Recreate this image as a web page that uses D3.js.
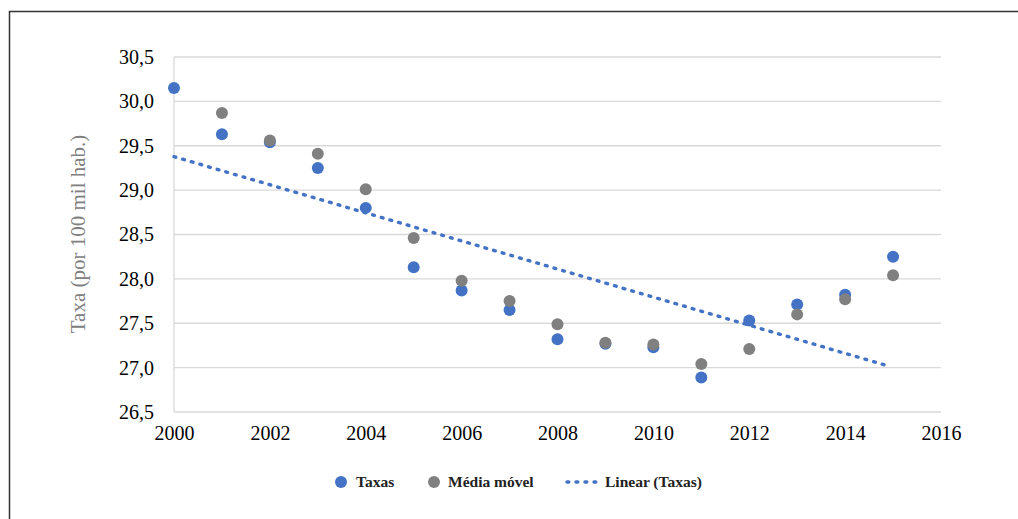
<!DOCTYPE html>
<html><head><meta charset="utf-8">
<script src="https://cdn.jsdelivr.net/npm/d3@7"></script>
<style>
body{margin:0;background:#fff;}
</style></head>
<body>
<svg id="c" width="1018" height="519"></svg>
<script>
const years = [2000,2001,2002,2003,2004,2005,2006,2007,2008,2009,2010,2011,2012,2013,2014,2015];
const taxas = [30.15,29.63,29.54,29.25,28.80,28.13,27.87,27.65,27.32,27.27,27.23,26.89,27.53,27.71,27.82,28.25];
const mediaYears = [2001,2002,2003,2004,2005,2006,2007,2008,2009,2010,2011,2012,2013,2014,2015];
const mediaMovel = [29.87,29.56,29.41,29.01,28.46,27.98,27.75,27.49,27.28,27.26,27.04,27.21,27.60,27.77,28.04];
const xTicks = [2000,2002,2004,2006,2008,2010,2012,2014,2016];
const yTicks = [26.5,27.0,27.5,28.0,28.5,29.0,29.5,30.0,30.5];
const trendRange = [2000, 2014.85];

const FONT = '"Liberation Serif"';
const svg = d3.select("#c");
const blue = "#4472C4", gray = "#808080";
const x = d3.scaleLinear().domain([2000,2016]).range([174,941]);
const y = d3.scaleLinear().domain([26.5,30.5]).range([412,57]);

// frame
svg.append("path").attr("d","M9.5,519 V11.5 H1018").attr("fill","none").attr("stroke","#333").attr("stroke-width",1.5);

// gridlines
svg.append("g").selectAll("line").data(yTicks).join("line")
  .attr("x1",x(2000)).attr("x2",x(2016)).attr("y1",d=>y(d)).attr("y2",d=>y(d))
  .attr("stroke","#d9d9d9").attr("stroke-width",1.3);
svg.append("line").attr("x1",x(2000)).attr("x2",x(2000)).attr("y1",y(30.5)).attr("y2",y(26.5))
  .attr("stroke","#d9d9d9").attr("stroke-width",1.3);

const fmt = d => d3.format(".1f")(d).replace(".",",");
const yAxis = d3.axisLeft(y).tickValues(yTicks).tickFormat(fmt).tickSize(0).tickPadding(20);
const gy = svg.append("g").attr("transform",`translate(${x(2000)},0)`).call(yAxis);
gy.attr("font-family",null).attr("font-size",null);
gy.select(".domain").remove();
gy.selectAll("text").style("font-size","20px").style("fill","#000").style("font-family",FONT);

const xAxis = d3.axisBottom(x).tickValues(xTicks).tickFormat(d3.format("d")).tickSize(0).tickPadding(14);
const gx = svg.append("g").attr("transform",`translate(0,${y(26.5)})`).call(xAxis);
gx.attr("font-family",null).attr("font-size",null);
gx.select(".domain").remove();
gx.selectAll("text").style("font-size","20px").style("fill","#000").style("font-family",FONT);

// axis title
svg.append("text").attr("transform","translate(85,234) rotate(-90)").attr("text-anchor","middle")
  .style("font-size","21px").style("fill",gray).style("font-family",FONT).text("Taxa (por 100 mil hab.)");

// linear regression of taxas
const mx = d3.mean(years), my = d3.mean(taxas);
const slope = d3.sum(years.map((v,i)=>(v-mx)*(taxas[i]-my))) / d3.sum(years.map(v=>(v-mx)*(v-mx)));
const icpt = my - slope*mx;

// taxas points
svg.append("g").selectAll("circle").data(years.map((v,i)=>[v,taxas[i]])).join("circle")
  .attr("cx",d=>x(d[0])).attr("cy",d=>y(d[1])).attr("r",6).attr("fill",blue);
// media movel points
svg.append("g").selectAll("circle").data(mediaYears.map((v,i)=>[v,mediaMovel[i]])).join("circle")
  .attr("cx",d=>x(d[0])).attr("cy",d=>y(d[1])).attr("r",6).attr("fill",gray);

// trend line
svg.append("line")
  .attr("x1",x(trendRange[0])).attr("y1",y(icpt+slope*trendRange[0]))
  .attr("x2",x(trendRange[1])).attr("y2",y(icpt+slope*trendRange[1]))
  .attr("stroke",blue).attr("stroke-width",3.4).attr("stroke-linecap","round").attr("stroke-dasharray","1.8 7.2");

// legend
const lg = svg.append("g");
const lt = s => s.style("font-size","15.5px").style("font-weight","bold").style("fill","#222").style("font-family",FONT);
lg.append("circle").attr("cx",341).attr("cy",482).attr("r",6).attr("fill",blue);
lg.append("text").attr("x",356).attr("y",487).call(lt).text("Taxas");
lg.append("circle").attr("cx",434).attr("cy",482).attr("r",6).attr("fill",gray);
lg.append("text").attr("x",448).attr("y",487).call(lt).text("Média móvel");
lg.append("line").attr("x1",567).attr("x2",597).attr("y1",482).attr("y2",482)
  .attr("stroke",blue).attr("stroke-width",3.4).attr("stroke-linecap","round").attr("stroke-dasharray","1.8 7.2");
lg.append("text").attr("x",605).attr("y",487).call(lt).text("Linear (Taxas)");
</script>
</body></html>
